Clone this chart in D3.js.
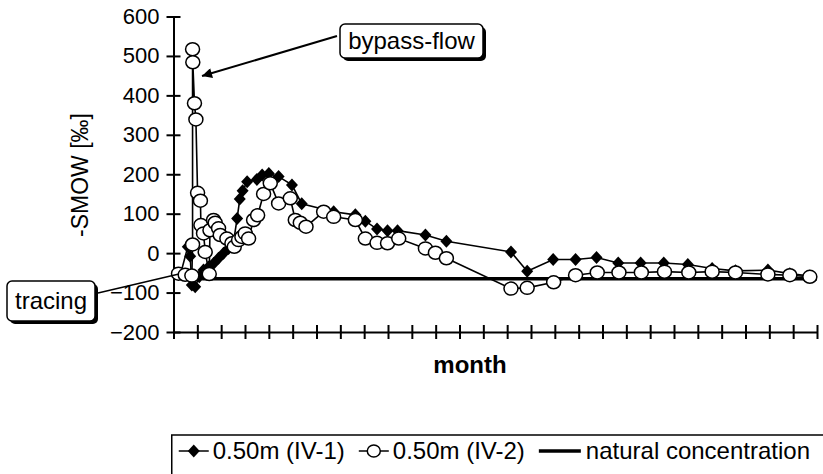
<!DOCTYPE html>
<html>
<head>
<meta charset="utf-8">
<script src="https://cdn.jsdelivr.net/npm/d3@7"></script>
<style>
  body { margin: 0; background: #fff; }
  svg { display: block; font-family: Arial, "Liberation Sans", sans-serif; }
</style>
</head>
<body>
<script>
const width = 823,
  height = 474;

// month (x) and value (y) of each sample
const iv1X = [0.3, 0.6, 0.7, 0.77, 0.91, 1.08, 1.26, 1.47, 1.68, 1.89, 2.1, 2.31, 2.52, 2.67, 2.78, 2.9, 3.09, 3.5, 3.72, 4.0, 4.41, 4.97, 5.38, 6.72, 7.63, 8.05, 8.54, 8.98, 9.4, 10.57, 11.45, 14.16, 14.84, 15.93, 16.87, 17.75, 18.66, 19.6, 20.57, 21.58, 22.6, 23.58, 24.94, 25.86, 26.7];
const iv1Y = [-52, 16, -8, -81, -85, -60, -43, -35, -26, -13, 0, 12, 29, 88, 137, 158, 181, 187, 198, 202, 194, 173, 125, 105, 97, 81, 61, 57, 57, 46, 30, 3, -46, -16, -16, -11, -25, -25, -25, -29, -39, -45, -43, -52, -58];

const iv2X = [0.21, 0.49, 0.77, 0.8, 0.8, 0.81, 0.88, 0.94, 1.01, 1.13, 1.15, 1.26, 1.33, 1.5, 1.53, 1.68, 1.75, 1.89, 1.96, 2.24, 2.45, 2.55, 2.73, 2.87, 3.01, 3.15, 3.36, 3.53, 3.78, 4.06, 4.41, 4.9, 5.11, 5.32, 5.56, 6.3, 6.72, 7.63, 8.05, 8.54, 8.98, 9.45, 10.57, 10.99, 11.45, 14.16, 14.84, 15.95, 16.87, 17.78, 18.69, 19.63, 20.6, 21.62, 22.6, 23.58, 24.94, 25.86, 26.7];
const iv2Y = [-52, -55, -57, 22, 517, 484, 380, 339, 153, 133, 71, 50, 3, -53, 58, 84, 77, 63, 46, 37, 25, 16, 33, 41, 50, 37, 84, 96, 150, 177, 126, 139, 84, 77, 67, 105, 92, 84, 37, 26, 25, 37, 12, 1, -13, -90, -88, -74, -56, -49, -49, -49, -47, -49, -47, -49, -54, -56, -60];

const naturalX = [1.2, 27];
const naturalY = [-65, -65];

const yTicks = [-200, -100, 0, 100, 200, 300, 400, 500, 600];
const xTicks = d3.range(0, 28);

const legendLabels = ["0.50m (IV-1)", "0.50m (IV-2)", "natural concentration"];

const x = d3.scaleLinear().domain([0, 27]).range([173.5, 817]);
const y = d3.scaleLinear().domain([-200, 600]).range([332, 16.5]);

const svg = d3
  .select("body")
  .append("svg")
  .attr("width", width)
  .attr("height", height);

// axes
const xAxis = svg
  .append("g")
  .attr("transform", `translate(0,${y(-200)})`)
  .call(d3.axisBottom(x).tickValues(xTicks).tickSize(7).tickSizeOuter(0).tickFormat(() => ""));
xAxis.selectAll(".tick line").attr("y1", -7).attr("stroke-width", 2);
xAxis.select(".domain").attr("stroke-width", 2);

const yAxis = svg
  .append("g")
  .attr("transform", `translate(${x(0)},0)`)
  .call(d3.axisLeft(y).tickValues(yTicks).tickSize(7).tickSizeOuter(0).tickPadding(7));
yAxis.selectAll(".tick line").attr("x1", 7).attr("stroke-width", 2);
yAxis.select(".domain").attr("stroke-width", 2);
yAxis.selectAll(".tick text").attr("font-size", 22).attr("font-family", "Arial, 'Liberation Sans', sans-serif");

svg
  .append("text")
  .attr("transform", `translate(88,175) rotate(-90)`)
  .attr("text-anchor", "middle")
  .attr("font-size", 23)
  .text("-SMOW [‰]");

svg
  .append("text")
  .attr("x", 470)
  .attr("y", 373)
  .attr("text-anchor", "middle")
  .attr("font-size", 24)
  .attr("font-weight", "bold")
  .text("month");

// natural concentration
const line = d3.line().x((d) => x(d[0])).y((d) => y(d[1]));

svg
  .append("path")
  .datum(d3.zip(naturalX, naturalY))
  .attr("d", line)
  .attr("fill", "none")
  .attr("stroke", "#000")
  .attr("stroke-width", 3.5);

const diamond = "M0,-6.5L6,0L0,6.5L-6,0Z";

// IV-1
const iv1 = d3.zip(iv1X, iv1Y);
svg
  .append("path")
  .datum(iv1)
  .attr("d", line)
  .attr("fill", "none")
  .attr("stroke", "#000")
  .attr("stroke-width", 1.6);
svg
  .append("g")
  .selectAll("path")
  .data(iv1)
  .join("path")
  .attr("d", diamond)
  .attr("transform", (d) => `translate(${x(d[0])},${y(d[1])})`)
  .attr("fill", "#000");

// IV-2
const iv2 = d3.zip(iv2X, iv2Y);
svg
  .append("path")
  .datum(iv2)
  .attr("d", line)
  .attr("fill", "none")
  .attr("stroke", "#000")
  .attr("stroke-width", 1.6);
svg
  .append("g")
  .selectAll("ellipse")
  .data(iv2)
  .join("ellipse")
  .attr("cx", (d) => x(d[0]))
  .attr("cy", (d) => y(d[1]))
  .attr("rx", 7)
  .attr("ry", 6.5)
  .attr("fill", "#fff")
  .attr("stroke", "#000")
  .attr("stroke-width", 1.5);

// callouts
svg
  .append("defs")
  .append("marker")
  .attr("id", "head")
  .attr("viewBox", "0 0 10 10")
  .attr("refX", 10)
  .attr("refY", 5)
  .attr("markerWidth", 6)
  .attr("markerHeight", 5)
  .attr("markerUnits", "strokeWidth")
  .attr("orient", "auto")
  .append("path")
  .attr("d", "M0,0L10,5L0,10Z")
  .attr("fill", "#000");

svg
  .append("line")
  .attr("x1", 337)
  .attr("y1", 36)
  .attr("x2", 202)
  .attr("y2", 76)
  .attr("stroke", "#000")
  .attr("stroke-width", 2)
  .attr("marker-end", "url(#head)");

svg
  .append("line")
  .attr("x1", 98)
  .attr("y1", 293)
  .attr("x2", 179)
  .attr("y2", 274)
  .attr("stroke", "#000")
  .attr("stroke-width", 1.5);

function callout(bx, by, bw, bh, label) {
  const g = svg.append("g");
  g.append("rect")
    .attr("x", bx + 3)
    .attr("y", by + 3)
    .attr("width", bw)
    .attr("height", bh)
    .attr("rx", 5)
    .attr("fill", "#000");
  g.append("rect")
    .attr("x", bx)
    .attr("y", by)
    .attr("width", bw)
    .attr("height", bh)
    .attr("rx", 5)
    .attr("fill", "#fff")
    .attr("stroke", "#000")
    .attr("stroke-width", 1.5);
  g.append("text")
    .attr("x", bx + bw / 2)
    .attr("y", by + bh / 2 + 8)
    .attr("text-anchor", "middle")
    .attr("font-size", 24)
    .text(label);
}
callout(340, 24, 143, 34, "bypass-flow");
callout(7, 281, 88, 40, "tracing");

// legend
const legend = svg.append("g");
const legendBox = legend
  .append("rect")
  .attr("y", 435)
  .attr("height", 60)
  .attr("fill", "#fff")
  .attr("stroke", "#000")
  .attr("stroke-width", 1.5);

const baseY = 459;
const midY = baseY - 8;
let cx = 0;
legendLabels.forEach((label, i) => {
  const it = legend.append("g");
  if (i < 2) {
    it.append("line").attr("x1", cx).attr("x2", cx + 30).attr("y1", midY).attr("y2", midY)
      .attr("stroke", "#000").attr("stroke-width", 1.5);
    if (i === 0) {
      it.append("path").attr("d", diamond).attr("transform", `translate(${cx + 15},${midY})`).attr("fill", "#000");
    } else {
      it.append("ellipse").attr("cx", cx + 15).attr("cy", midY).attr("rx", 6.5).attr("ry", 6)
        .attr("fill", "#fff").attr("stroke", "#000").attr("stroke-width", 1.5);
    }
    cx += 34;
  } else {
    it.append("line").attr("x1", cx).attr("x2", cx + 42).attr("y1", midY).attr("y2", midY)
      .attr("stroke", "#000").attr("stroke-width", 3.5);
    cx += 47;
  }
  const t = it.append("text").attr("x", cx).attr("y", baseY).attr("font-size", 24).text(label);
  cx += t.node().getComputedTextLength() + 14;
});
const shift = 810 - (cx - 14);
legend.selectAll("g").attr("transform", `translate(${shift},0)`);
legendBox.attr("x", shift - 7).attr("width", width);
</script>
</body>
</html>
